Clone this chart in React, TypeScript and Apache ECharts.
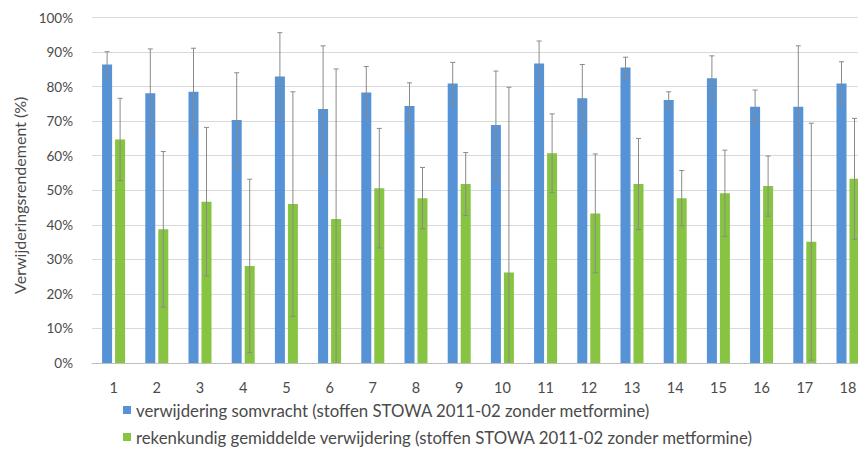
import React, { useEffect, useRef } from "react";
import * as echarts from "echarts";

const categories = ["1","2","3","4","5","6","7","8","9","10","11","12","13","14","15","16","17","18"];
const blueValues = [86.4,78.1,78.5,70.3,82.9,73.5,78.3,74.4,80.9,68.9,86.7,76.6,85.5,76.1,82.4,74.2,74.2,80.9];
const blueErr = [3.7,12.8,12.6,13.7,12.7,18.3,7.5,6.7,6.1,15.6,6.5,9.8,3.0,2.4,6.5,4.8,17.6,6.3];
const greenValues = [64.7,38.7,46.7,28.1,46.0,41.7,50.6,47.7,51.8,26.2,60.7,43.3,51.8,47.7,49.1,51.2,35.1,53.3];
const greenErr = [11.9,22.5,21.5,25.1,32.5,43.4,17.3,8.9,9.1,53.6,11.4,17.2,13.2,8.0,12.5,8.7,34.3,17.5];
const yTicks = { min: 0, max: 100, interval: 10 };
const blueName = "verwijdering somvracht (stoffen STOWA 2011-02 zonder metformine)";
const greenName = "rekenkundig gemiddelde verwijdering (stoffen STOWA 2011-02 zonder metformine)";

const BLUE = "#5592D6";
const GREEN = "#86C441";
const FONT = "Lato";
const TEXT = "#4a4a4a";

function errorSeries(values: number[], errs: number[], offset: number) {
  const data = values.map((v, i) => [i, Math.max(0, v - errs[i]), v + errs[i], v - errs[i] < 0 ? 1 : 0]);
  return {
    type: "custom",
    silent: true,
    z: 10,
    data,
    encode: { x: 0, y: [1, 2] },
    renderItem: (params: any, api: any) => {
      const cat = api.value(0);
      const lowP = api.coord([cat, api.value(1)]);
      const highP = api.coord([cat, api.value(2)]);
      const clipped = api.value(3) === 1;
      const x = lowP[0] + offset;
      const cap = 2.5;
      const style = { stroke: "#8a8a8a", lineWidth: 1, fill: "none" };
      const children: any[] = [
        { type: "line", shape: { x1: x, y1: lowP[1], x2: x, y2: highP[1] }, style },
        { type: "line", shape: { x1: x - cap, y1: highP[1], x2: x + cap, y2: highP[1] }, style },
      ];
      if (!clipped) {
        children.push({ type: "line", shape: { x1: x - cap, y1: lowP[1], x2: x + cap, y2: lowP[1] }, style });
      }
      return { type: "group", children };
    },
  };
}

const legendBase = {
  orient: "horizontal",
  left: 123,
  padding: 0,
  itemWidth: 8,
  itemHeight: 8,
  icon: "rect",
  textStyle: { fontFamily: FONT, fontSize: 16.8, color: TEXT, lineHeight: 17 },
};

export default function App() {
  const ref = useRef<HTMLDivElement>(null);
  useEffect(() => {
    if (!ref.current) return;
    const chart = echarts.init(ref.current, null, { renderer: "svg" });
    chart.setOption({
      animation: false,
      backgroundColor: "#ffffff",
      textStyle: { fontFamily: FONT },
      grid: { left: 92, top: 17.5, width: 777.6, height: 345.5 },
      legend: [
        { ...legendBase, top: 401.5, data: [blueName] },
        { ...legendBase, top: 428.5, data: [greenName] },
      ],
      xAxis: {
        type: "category",
        data: categories,
        axisLine: { lineStyle: { color: "#bfbfbf" } },
        axisTick: { show: false },
        axisLabel: { fontFamily: FONT, fontSize: 14.5, color: TEXT, margin: 17 },
      },
      yAxis: {
        type: "value",
        min: yTicks.min,
        max: yTicks.max,
        interval: yTicks.interval,
        name: "Verwijderingsrendement (%)",
        nameLocation: "middle",
        nameRotate: 90,
        nameGap: 63,
        nameTextStyle: { fontFamily: FONT, fontSize: 16, color: TEXT, padding: [0, 10, 0, 0] },
        axisLine: { show: false },
        axisTick: { show: false },
        splitLine: { lineStyle: { color: "#d9d9d9" } },
        axisLabel: { fontFamily: FONT, fontSize: 13.5, color: TEXT, margin: 19, formatter: "{value}%" },
      },
      series: [
        { name: blueName, type: "bar", data: blueValues, barWidth: 10, barGap: "30%", itemStyle: { color: BLUE } },
        { name: greenName, type: "bar", data: greenValues, barWidth: 10, barGap: "30%", itemStyle: { color: GREEN } },
        errorSeries(blueValues, blueErr, -6.5),
        errorSeries(greenValues, greenErr, 6.5),
      ],
    });
    return () => chart.dispose();
  }, []);
  return (
    <div style={{ position: "fixed", left: 0, top: 0, width: 858, height: 450, overflow: "hidden", background: "#fff" }}>
      <div ref={ref} style={{ width: 872, height: 450 }} />
    </div>
  );
}
